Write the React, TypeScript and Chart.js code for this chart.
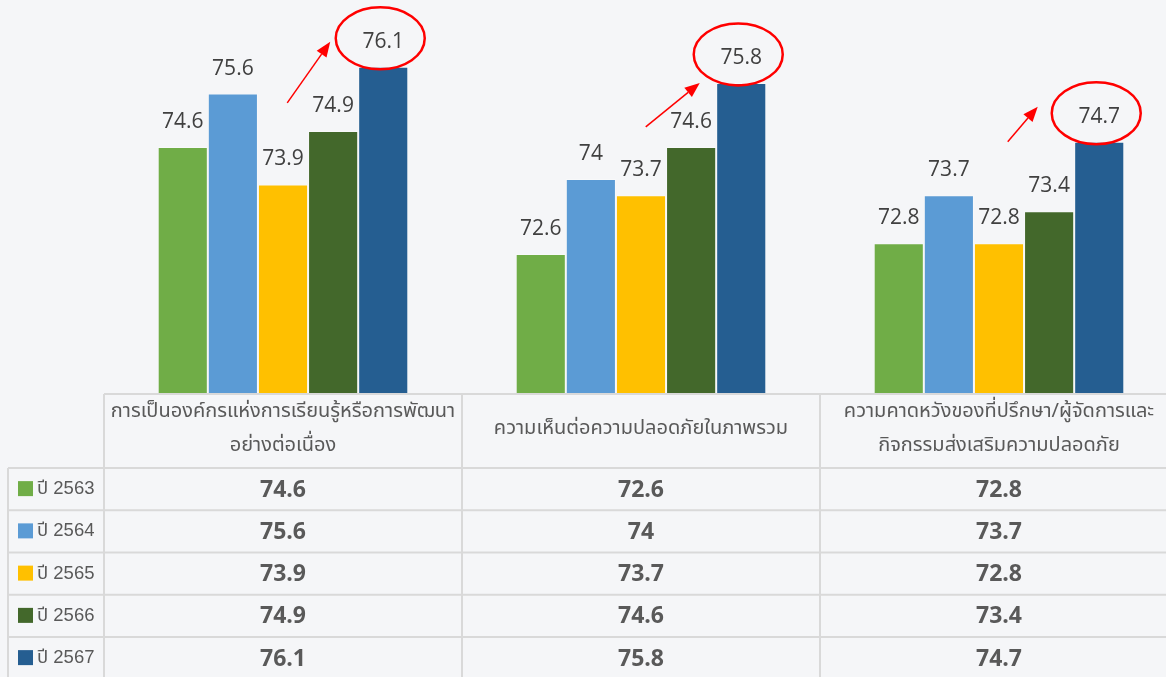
import React, { useEffect, useRef } from "react";
import { Chart, registerables } from "chart.js";

Chart.register(...registerables);

const categories: string[][] = [
  ["การเป็นองค์กรแห่งการเรียนรู้หรือการพัฒนา", "อย่างต่อเนื่อง"],
  ["ความเห็นต่อความปลอดภัยในภาพรวม"],
  ["ความคาดหวังของที่ปรึกษา/ผู้จัดการและ", "กิจกรรมส่งเสริมความปลอดภัย"],
];
const seriesNames = ["ปี 2563", "ปี 2564", "ปี 2565", "ปี 2566", "ปี 2567"];
const y2563 = [74.6, 72.6, 72.8];
const y2564 = [75.6, 74, 73.7];
const y2565 = [73.9, 73.7, 72.8];
const y2566 = [74.9, 74.6, 73.4];
const y2567 = [76.1, 75.8, 74.7];
const seriesValues = [y2563, y2564, y2565, y2566, y2567];
const seriesColors = ["#70ad47", "#5b9bd5", "#ffc000", "#43682b", "#255e91"];

const BG = "#f5f6f8";
const THAI = '"Noto Sans Thai", "Noto Sans", Tahoma, sans-serif';

// arrow geometry relative to the highlighted (last series) bar top
const arrowOffsets = [
  { tail: [-96, 36], tip: [-53, -25] },
  { tail: [-95.5, 44], tip: [-41.5, 0] },
  { tail: [-91.5, 0], tip: [-61.5, -35] },
];

function drawArrow(ctx: CanvasRenderingContext2D, x1: number, y1: number, x2: number, y2: number) {
  const ang = Math.atan2(y2 - y1, x2 - x1);
  const headLen = 15;
  const headW = 6;
  const bx = x2 - headLen * Math.cos(ang);
  const by = y2 - headLen * Math.sin(ang);
  ctx.save();
  ctx.strokeStyle = "#ff0000";
  ctx.fillStyle = "#ff0000";
  ctx.lineWidth = 1.5;
  ctx.beginPath();
  ctx.moveTo(x1, y1);
  ctx.lineTo(bx, by);
  ctx.stroke();
  ctx.beginPath();
  ctx.moveTo(x2, y2);
  ctx.lineTo(bx + headW * Math.sin(ang), by - headW * Math.cos(ang));
  ctx.lineTo(bx - headW * Math.sin(ang), by + headW * Math.cos(ang));
  ctx.closePath();
  ctx.fill();
  ctx.restore();
}

const overlayPlugin = {
  id: "overlay",
  beforeDraw(chart: any) {
    const ctx = chart.ctx as CanvasRenderingContext2D;
    ctx.save();
    ctx.fillStyle = BG;
    ctx.fillRect(0, 0, chart.width, chart.height);
    ctx.restore();
  },
  afterDatasetsDraw(chart: any) {
    const ctx = chart.ctx as CanvasRenderingContext2D;
    const n = chart.data.datasets.length;
    // value labels
    ctx.save();
    ctx.font = '21px "Open Sans", sans-serif';
    ctx.fillStyle = "#404040";
    ctx.textAlign = "center";
    ctx.textBaseline = "middle";
    chart.data.datasets.forEach((ds: any, di: number) => {
      const meta = chart.getDatasetMeta(di);
      meta.data.forEach((bar: any, i: number) => {
        ctx.fillText(String(ds.data[i]), bar.x, bar.y - 25);
      });
    });
    ctx.restore();

    // highlight ellipses + arrows on last series
    const lastMeta = chart.getDatasetMeta(n - 1);
    lastMeta.data.forEach((bar: any, i: number) => {
      ctx.save();
      ctx.strokeStyle = "#ff0000";
      ctx.lineWidth = 2.5;
      ctx.beginPath();
      ctx.ellipse(bar.x - 3, bar.y - 28.5, 44.5, 31, 0, 0, Math.PI * 2);
      ctx.stroke();
      ctx.restore();
      const a = arrowOffsets[i];
      if (a) drawArrow(ctx, bar.x + a.tail[0], bar.y + a.tail[1], bar.x + a.tip[0], bar.y + a.tip[1]);
    });

    // data table
    const xs = chart.scales.x;
    const area = chart.chartArea;
    const cat = (area.right - area.left) / categories.length;
    const top = area.bottom + 1;
    const headerH = 74;
    const rowH = 42.25;
    const legendLeft = 8;
    const bottom = top + headerH + rowH * n + 2;

    ctx.save();
    ctx.strokeStyle = "#d9d9d9";
    ctx.lineWidth = 2;
    ctx.beginPath();
    ctx.moveTo(area.left, top);
    ctx.lineTo(area.right, top);
    ctx.stroke();
    for (let i = 0; i <= categories.length; i++) {
      const x = i === 0 ? area.left : xs.getPixelForValue(i - 1) + cat / 2;
      ctx.beginPath();
      ctx.moveTo(x, top);
      ctx.lineTo(x, bottom);
      ctx.stroke();
    }
    ctx.beginPath();
    ctx.moveTo(legendLeft, top + headerH);
    ctx.lineTo(legendLeft, bottom);
    ctx.stroke();
    for (let r = 0; r <= n; r++) {
      const y = top + headerH + r * rowH;
      ctx.beginPath();
      ctx.moveTo(legendLeft, y);
      ctx.lineTo(area.right, y);
      ctx.stroke();
    }
    ctx.restore();

    // header text
    ctx.save();
    ctx.font = "20px " + THAI;
    ctx.fillStyle = "#595959";
    ctx.textAlign = "center";
    ctx.textBaseline = "middle";
    categories.forEach((lines, i) => {
      const cx = xs.getPixelForValue(i);
      const cy = top + headerH / 2 - 1;
      const lh = 34;
      lines.forEach((ln, li) => {
        ctx.fillText(ln, cx, cy + (li - (lines.length - 1) / 2) * lh);
      });
    });
    ctx.restore();

    // rows
    for (let r = 0; r < n; r++) {
      const cy = top + headerH + r * rowH + rowH / 2;
      ctx.save();
      ctx.fillStyle = seriesColors[r];
      ctx.fillRect(18, cy - 8, 15, 15);
      ctx.fillStyle = "#595959";
      ctx.font = '18.5px "Liberation Sans", ' + THAI;
      ctx.textAlign = "left";
      ctx.textBaseline = "middle";
      ctx.fillText(seriesNames[r], 37, cy);
      ctx.font = 'bold 23px "Open Sans", sans-serif';
      ctx.textAlign = "center";
      const vals = chart.data.datasets[r].data;
      for (let i = 0; i < categories.length; i++) {
        ctx.fillText(String(vals[i]), xs.getPixelForValue(i), cy + 1);
      }
      ctx.restore();
    }
  },
};

export default function App() {
  const ref = useRef<HTMLCanvasElement>(null);
  useEffect(() => {
    if (!ref.current) return;
    const chart = new Chart(ref.current, {
      type: "bar",
      data: {
        labels: categories.map((c) => c.join(" ")),
        datasets: seriesNames.map((name, i) => ({
          label: name,
          data: seriesValues[i],
          backgroundColor: seriesColors[i],
          borderColor: "rgba(255,255,255,0.3)",
          borderWidth: 1,
          categoryPercentage: 0.7,
          barPercentage: 1.0,
        })),
      },
      options: {
        responsive: false,
        animation: false,
        layout: { padding: { left: 104, right: 12, top: 0, bottom: 284 } },
        plugins: { legend: { display: false }, tooltip: { enabled: false } },
        scales: {
          x: { display: false },
          y: { display: false, min: 70, max: 77.35 },
        },
      },
      plugins: [overlayPlugin],
    });
    return () => chart.destroy();
  }, []);
  return (
    <div
      style={{
        position: "absolute",
        left: 0,
        top: 0,
        width: 1166,
        height: 677,
        overflow: "hidden",
        background: BG,
      }}
    >
      <canvas ref={ref} width={1190} height={677} style={{ display: "block" }} />
    </div>
  );
}
